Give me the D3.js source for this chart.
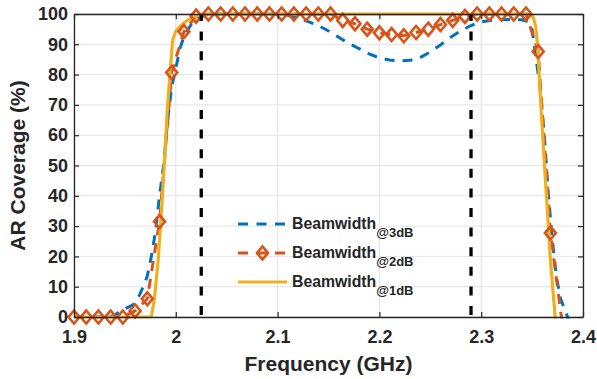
<!DOCTYPE html>
<html><head><meta charset="utf-8">
<script src="https://cdn.jsdelivr.net/npm/d3@7"></script>
<style>
body{margin:0;background:#fff}
svg{display:block}
text{font-family:"Liberation Sans",Arial,Helvetica,sans-serif;font-weight:bold;fill:#262626}
</style></head>
<body>
<svg id="chart" width="597" height="379"></svg>
<script>
// ---- data ----
const xTicks = [1.9, 2.0, 2.1, 2.2, 2.3, 2.4];
const xTickLabels = ["1.9", "2", "2.1", "2.2", "2.3", "2.4"];
const yTicks = [0, 10, 20, 30, 40, 50, 60, 70, 80, 90, 100];
const yTickLabels = ["0", "10", "20", "30", "40", "50", "60", "70", "80", "90", "100"];

// Beamwidth @3dB (blue dashed)
const freq3 = [1.900,1.930,1.940,1.944,1.952,1.958,1.964,1.968,1.972,1.976,1.980,1.984,1.988,1.992,1.996,2.000,2.004,2.008,2.014,2.020,2.030,2.040,2.100,2.110,2.120,2.130,2.140,2.150,2.160,2.170,2.180,2.190,2.200,2.210,2.220,2.230,2.240,2.250,2.260,2.270,2.280,2.290,2.300,2.310,2.320,2.330,2.340,2.346,2.350,2.354,2.358,2.362,2.366,2.370,2.374,2.378,2.383,2.388];
const cov3  = [0,0,0.5,1.7,3,4,7,10,13.5,20,28,40,50,65,76,82,88.5,92.5,96,98.3,99.7,100,100,99.6,98.6,97.5,96.2,94.4,92.3,90.3,88.6,86.8,85.5,84.8,84.5,84.7,85.6,87.5,89.8,92.3,94.5,96.2,97.4,97.9,98.1,98.2,98.1,97.5,95,85,75,60,40.5,25,13,6,1.7,-3];

// Beamwidth @2dB (orange dashed with diamonds)
const freq2 = [1.900,1.912,1.924,1.936,1.948,1.960,1.972,1.984,1.996,2.008,2.020,2.032,2.044,2.056,2.068,2.080,2.092,2.104,2.116,2.128,2.140,2.152,2.164,2.176,2.188,2.200,2.212,2.224,2.236,2.248,2.260,2.272,2.284,2.296,2.308,2.320,2.332,2.344,2.356,2.368,2.380];
const cov2  = [0,0,0,0,0,2,6,31.5,80.7,94.2,99.3,100,100,100,100,100,100,100,100,100,100,100,97.9,96.8,95.0,93.8,93.2,92.8,93.9,95.0,96.5,97.9,99.2,100,100,100,100,100,87.6,27.7,-3];

// Beamwidth @1dB (yellow solid)
const freq1 = [1.900,1.976,1.979,1.9827,1.986,1.989,1.991,1.994,1.997,2.000,2.004,2.010,2.016,2.024,2.030,2.348,2.351,2.3535,2.3552,2.3585,2.3618,2.365,2.368,2.3725,2.376];
const cov1  = [0,0,6,18.8,35,52,65,79.4,91.5,94.3,95.9,97.6,98.8,99.8,100,100,99,96,90.4,70.6,51.9,35.3,18.8,0.6,-15];

// band edges (black dashed)
const bandEdges = [2.025, 2.29];

const legendSubs = ["@3dB", "@2dB", "@1dB"];
const legendMain = "Beamwidth";
const colors = ["#0072BD", "#D95319", "#EDB120"];

// ---- layout ----
const svg = d3.select("#chart");
const W = 597, H = 379;
const m = {left: 74, top: 14, right: 14, bottom: 62};
const x = d3.scaleLinear().domain([1.9, 2.4]).range([m.left, W - m.right]);
const y = d3.scaleLinear().domain([0, 100]).range([H - m.bottom, m.top]);
const axisColor = "#262626";

svg.append("defs").append("clipPath").attr("id", "clip")
  .append("rect").attr("x", m.left - 1).attr("y", m.top - 2)
  .attr("width", x(2.4) - m.left + 2).attr("height", y(0) - m.top + 3.5);

// grid
const grid = svg.append("g");
grid.selectAll(".gx").data(xTicks).join("line")
  .attr("x1", d => x(d)).attr("x2", d => x(d)).attr("y1", y(0)).attr("y2", y(100))
  .attr("stroke", "#e3e3e3").attr("stroke-width", 1);
grid.selectAll(".gy").data(yTicks).join("line")
  .attr("x1", x(1.9)).attr("x2", x(2.4)).attr("y1", d => y(d)).attr("y2", d => y(d))
  .attr("stroke", "#e3e3e3").attr("stroke-width", 1);

// curves
const plot = svg.append("g").attr("clip-path", "url(#clip)");
const line = d3.line().x(d => x(d[0])).y(d => y(d[1]));

plot.append("path").datum(d3.zip(freq3, cov3)).attr("d", line)
  .attr("fill", "none").attr("stroke", colors[0]).attr("stroke-width", 3)
  .attr("stroke-dasharray", "10 8");

plot.append("path").datum(d3.zip(freq2, cov2)).attr("d", line)
  .attr("fill", "none").attr("stroke", colors[1]).attr("stroke-width", 3)
  .attr("stroke-dasharray", "10 8");

const diamond = "M0,-6.5L5.5,0L0,6.5L-5.5,0Z";
svg.append("g").selectAll("path").data(d3.zip(freq2, cov2).filter(d => d[1] >= 0 && d[1] <= 100))
  .join("path").attr("d", diamond)
  .attr("transform", d => `translate(${x(d[0])},${y(d[1])})`)
  .attr("fill", "none").attr("stroke", colors[1]).attr("stroke-width", 2.6);

plot.append("path").datum(d3.zip(freq1, cov1)).attr("d", line)
  .attr("fill", "none").attr("stroke", colors[2]).attr("stroke-width", 3.2)
  .attr("stroke-linejoin", "round");

// band edge lines
svg.append("g").selectAll("line").data(bandEdges).join("line")
  .attr("x1", d => x(d)).attr("x2", d => x(d)).attr("y1", y(0)).attr("y2", y(100))
  .attr("stroke", "#000").attr("stroke-width", 3.3)
  .attr("stroke-dasharray", "9 10.6").attr("stroke-dashoffset", 17.6);

// axes
const fontTick = 18;
const xAxis = svg.append("g").attr("transform", `translate(0,${y(0)})`)
  .call(d3.axisBottom(x).tickValues(xTicks).tickFormat((d, i) => xTickLabels[i]).tickSizeInner(-5).tickSizeOuter(0).tickPadding(13));
const yAxis = svg.append("g").attr("transform", `translate(${x(1.9)},0)`)
  .call(d3.axisLeft(y).tickValues(yTicks).tickFormat((d, i) => yTickLabels[i]).tickSizeInner(-5).tickSizeOuter(0).tickPadding(6));
const xTop = svg.append("g").attr("transform", `translate(0,${y(100)})`)
  .call(d3.axisTop(x).tickValues(xTicks).tickFormat("").tickSizeInner(-5).tickSizeOuter(0));
const yRight = svg.append("g").attr("transform", `translate(${x(2.4)},0)`)
  .call(d3.axisRight(y).tickValues(yTicks).tickFormat("").tickSizeInner(-5).tickSizeOuter(0));
[xAxis, yAxis, xTop, yRight].forEach(g => {
  g.select(".domain").attr("stroke", axisColor).attr("stroke-width", 1.3);
  g.selectAll(".tick line").attr("stroke", axisColor).attr("stroke-width", 1.2);
  g.selectAll("text").attr("font-size", fontTick).attr("font-family", null).style("fill", axisColor);
});
svg.selectAll(".tick text").attr("font-weight", "bold");

// axis labels
svg.append("text").attr("x", (x(1.9) + x(2.4)) / 2).attr("y", 371)
  .attr("text-anchor", "middle").attr("font-size", 21).text("Frequency (GHz)");
svg.append("text").attr("transform", `translate(25,${(y(0) + y(100)) / 2}) rotate(-90)`)
  .attr("text-anchor", "middle").attr("font-size", 21).text("AR Coverage (%)");

// legend
const legRows = [224, 253, 282];
const lx1 = 238, lx2 = 287, tx = 292;
const leg = svg.append("g");
legRows.forEach((ry, i) => {
  const ln = leg.append("line").attr("x1", lx1).attr("x2", lx2).attr("y1", ry).attr("y2", ry)
    .attr("stroke", colors[i]).attr("stroke-width", 3.2);
  if (i < 2) ln.attr("stroke-dasharray", "10 8.5");
  if (i === 1) leg.append("path").attr("d", diamond)
    .attr("transform", `translate(${(lx1 + lx2) / 2},${ry})`)
    .attr("fill", "none").attr("stroke", colors[1]).attr("stroke-width", 2.6);
  const t = leg.append("text").attr("x", tx).attr("y", ry + 5.3).attr("font-size", 15.8);
  t.append("tspan").text(legendMain);
  t.append("tspan").attr("font-size", 13).attr("dy", 8).text(legendSubs[i]);
});
</script>
</body></html>
